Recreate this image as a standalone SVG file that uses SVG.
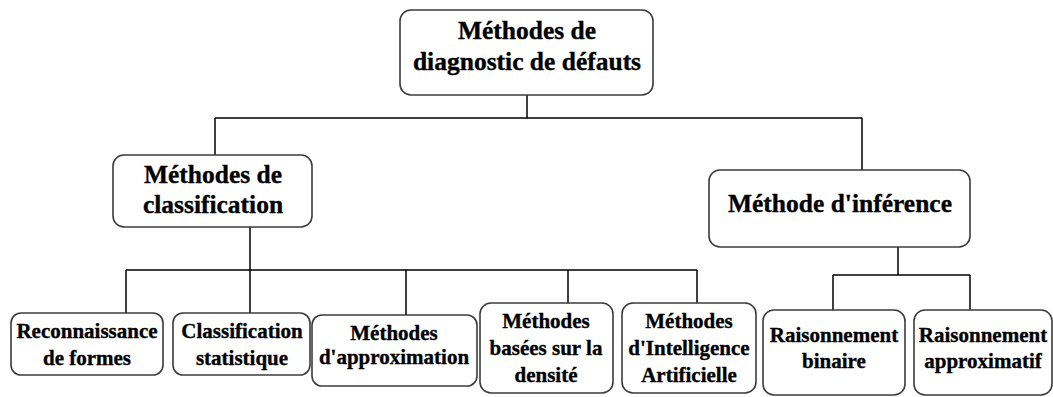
<svg xmlns="http://www.w3.org/2000/svg" width="1053" height="397" viewBox="0 0 1053 397">
  <style>
    .box { fill: #ffffff; stroke: #3c3c3c; stroke-width: 1.6; }
    .lbl { font-family: "Liberation Serif", "Times New Roman", serif; font-weight: bold; fill: #000000; stroke: #000000; stroke-width: 0.35; text-anchor: middle; }
    .big { font-size: 25.5px; }
    .small { font-size: 21px; }
    .wire { fill: none; stroke: #000000; stroke-width: 1.5; }
  </style>
  <rect width="1053" height="397" fill="#ffffff"/>

  <!-- connectors -->
  <g id="connectors">
    <path class="wire" d="M527 95 V118 M215 118 H862 M215 118 V155 M862 118 V170"/>
    <path class="wire" d="M250 227 V270 M126 270 H697 M126 270 V313 M250 270 V313 M406 270 V315 M568 270 V303 M697 270 V303"/>
    <path class="wire" d="M898 247 V275 M833 275 H970 M833 275 V310 M970 275 V310"/>
  </g>

  <!-- root -->
  <g id="root">
    <rect class="box" x="400" y="10" width="253" height="85" rx="11"/>
    <text class="lbl big" x="527" y="39">Méthodes de</text>
    <text class="lbl big" x="527" y="70">diagnostic de défauts</text>
  </g>

  <!-- second level -->
  <g id="classification">
    <rect class="box" x="113" y="155" width="199" height="72" rx="11"/>
    <text class="lbl big" x="213" y="183">Méthodes de</text>
    <text class="lbl big" x="213" y="213">classification</text>
  </g>
  <g id="inference">
    <rect class="box" x="709" y="170" width="261" height="77" rx="11"/>
    <text class="lbl big" x="840" y="212">Méthode d'inférence</text>
  </g>

  <!-- classification methods -->
  <g id="reconnaissance">
    <rect class="box" x="11" y="313" width="152" height="62" rx="10"/>
    <text class="lbl small" x="87" y="338">Reconnaissance</text>
    <text class="lbl small" x="87" y="365">de formes</text>
  </g>
  <g id="statistique">
    <rect class="box" x="173" y="313" width="137" height="62" rx="10"/>
    <text class="lbl small" x="242" y="338">Classification</text>
    <text class="lbl small" x="242" y="365">statistique</text>
  </g>
  <g id="approximation">
    <rect class="box" x="312" y="315" width="165" height="71" rx="10"/>
    <text class="lbl small" x="394" y="340">Méthodes</text>
    <text class="lbl small" x="394" y="364">d'approximation</text>
  </g>
  <g id="densite">
    <rect class="box" x="480" y="303" width="133" height="90" rx="11"/>
    <text class="lbl small" x="546" y="328">Méthodes</text>
    <text class="lbl small" x="546" y="355">basées sur la</text>
    <text class="lbl small" x="546" y="382">densité</text>
  </g>
  <g id="intelligence">
    <rect class="box" x="622" y="303" width="134" height="90" rx="11"/>
    <text class="lbl small" x="689" y="328">Méthodes</text>
    <text class="lbl small" x="689" y="355">d'Intelligence</text>
    <text class="lbl small" x="689" y="382">Artificielle</text>
  </g>

  <!-- inference methods -->
  <g id="binaire">
    <rect class="box" x="763" y="310" width="142" height="85" rx="11"/>
    <text class="lbl small" x="834" y="342">Raisonnement</text>
    <text class="lbl small" x="834" y="368">binaire</text>
  </g>
  <g id="approximatif">
    <rect class="box" x="914" y="310" width="138" height="85" rx="11"/>
    <text class="lbl small" x="983" y="342">Raisonnement</text>
    <text class="lbl small" x="983" y="368">approximatif</text>
  </g>
</svg>
